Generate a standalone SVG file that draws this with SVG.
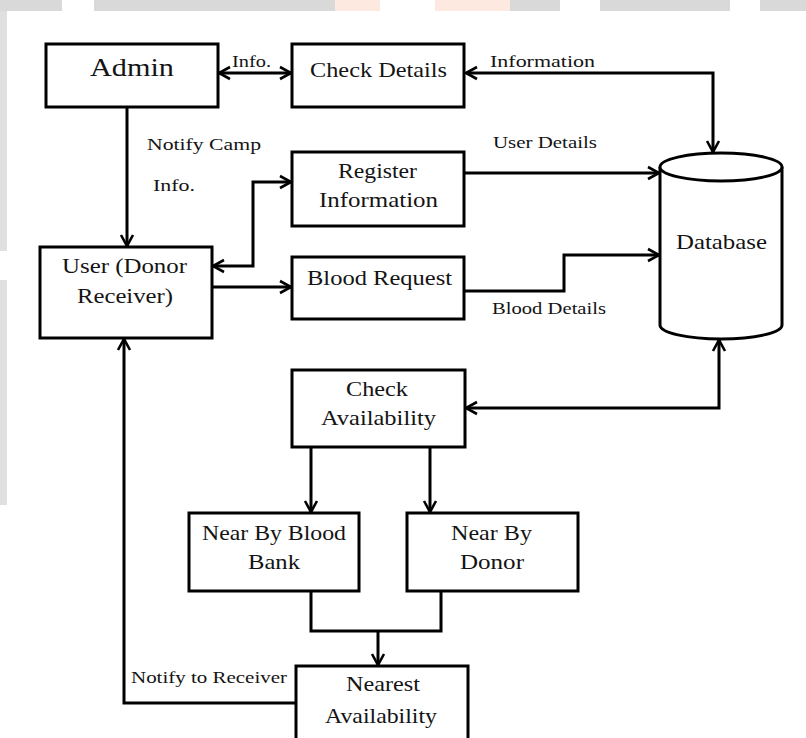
<svg xmlns="http://www.w3.org/2000/svg" width="806" height="738" viewBox="0 0 806 738">
<style>
.box{fill:#fff;stroke:#000;stroke-width:3}
.t{font-family:"Liberation Serif","Times New Roman",serif;font-size:21px;fill:#141414;text-anchor:start}
.lb{font-family:"Liberation Serif","Times New Roman",serif;font-size:17px;fill:#141414}
.c{fill:none;stroke:#000;stroke-width:3}
</style>
<defs>
<marker id="ah" viewBox="-2 -2 16 16" markerWidth="16" markerHeight="16" refX="11" refY="6" markerUnits="userSpaceOnUse" orient="auto-start-reverse">
<path d="M0,0 L11,6 L0,12" fill="none" stroke="#000" stroke-width="2.6"/>
</marker>
</defs>
<rect width="806" height="738" fill="#fff"/>
<g id="watermark">
<rect x="0" y="0" width="806" height="11" fill="#d9d9d9"/>
<rect x="62" y="0" width="32" height="11" fill="#fff"/>
<rect x="335" y="0" width="175" height="11" fill="#fde9df"/>
<rect x="380" y="0" width="55" height="11" fill="#fff"/>
<rect x="560" y="0" width="40" height="11" fill="#fff"/>
<rect x="730" y="0" width="30" height="11" fill="#fff"/>
<rect x="0" y="11" width="7" height="240" fill="#e0e0e0"/>
<rect x="0" y="280" width="7" height="225" fill="#e0e0e0"/>
</g>
<g id="connectors">
<path class="c" d="M219,73 L291,73" marker-start="url(#ah)" marker-end="url(#ah)"/>
<path class="c" d="M466,73 L713,73 L713,152" marker-start="url(#ah)" marker-end="url(#ah)"/>
<path class="c" d="M127,107 L127,246" marker-end="url(#ah)"/>
<path class="c" d="M213,266 L253,266 L253,182 L291,182" marker-start="url(#ah)" marker-end="url(#ah)"/>
<path class="c" d="M464,173 L659,173" marker-end="url(#ah)"/>
<path class="c" d="M212,287 L291,287" marker-end="url(#ah)"/>
<path class="c" d="M464,291 L564,291 L564,255 L659,255" marker-end="url(#ah)"/>
<path class="c" d="M466,408 L719,408 L719,340" marker-start="url(#ah)" marker-end="url(#ah)"/>
<path class="c" d="M311,447 L311,512" marker-end="url(#ah)"/>
<path class="c" d="M430,447 L430,512" marker-end="url(#ah)"/>
<path class="c" d="M311,591 L311,631 L441,631 L441,591"/>
<path class="c" d="M378,631 L378,665" marker-end="url(#ah)"/>
<path class="c" d="M296,703 L124,703 L124,339" marker-end="url(#ah)"/>
</g>
<g id="labels">
<text class="lb" x="232" y="67" textLength="39" lengthAdjust="spacingAndGlyphs">Info.</text>
<text class="lb" x="490" y="67" textLength="105" lengthAdjust="spacingAndGlyphs">Information</text>
<text class="lb" x="147" y="150" textLength="114" lengthAdjust="spacingAndGlyphs">Notify Camp</text>
<text class="lb" x="153" y="191" textLength="42" lengthAdjust="spacingAndGlyphs">Info.</text>
<text class="lb" x="493" y="148" textLength="104" lengthAdjust="spacingAndGlyphs">User Details</text>
<text class="lb" x="492" y="314" textLength="114" lengthAdjust="spacingAndGlyphs">Blood Details</text>
<text class="lb" x="131" y="683" textLength="156" lengthAdjust="spacingAndGlyphs">Notify to Receiver</text>
</g>
<g id="admin">
<rect class="box" x="46" y="44" width="172" height="63"/>
<text class="t" x="90" y="76" style="font-size:25px" textLength="84" lengthAdjust="spacingAndGlyphs">Admin</text>
</g>
<g id="check-details">
<rect class="box" x="292" y="44" width="172" height="63"/>
<text class="t" x="310" y="77" textLength="137" lengthAdjust="spacingAndGlyphs">Check Details</text>
</g>
<g id="user">
<rect class="box" x="40" y="247" width="172" height="91"/>
<text class="t" x="62" y="273" textLength="125" lengthAdjust="spacingAndGlyphs">User (Donor</text>
<text class="t" x="77" y="303" textLength="96" lengthAdjust="spacingAndGlyphs">Receiver)</text>
</g>
<g id="register">
<rect class="box" x="292" y="152" width="172" height="74"/>
<text class="t" x="338" y="178" textLength="79" lengthAdjust="spacingAndGlyphs">Register</text>
<text class="t" x="319" y="207" textLength="119" lengthAdjust="spacingAndGlyphs">Information</text>
</g>
<g id="blood-request">
<rect class="box" x="292" y="257" width="172" height="62"/>
<text class="t" x="307" y="285" textLength="145" lengthAdjust="spacingAndGlyphs">Blood Request</text>
</g>
<g id="database">
<path class="box" d="M660,167 L660,325 A61,14 0 0 0 782,325 L782,167"/>
<ellipse cx="721" cy="167" rx="61" ry="14" fill="#fff" stroke="#000" stroke-width="3"/>
<text class="t" x="676" y="249" textLength="91" lengthAdjust="spacingAndGlyphs">Database</text>
</g>
<g id="check-availability">
<rect class="box" x="292" y="370" width="173" height="77"/>
<text class="t" x="346" y="396" textLength="62" lengthAdjust="spacingAndGlyphs">Check</text>
<text class="t" x="321" y="425" textLength="115" lengthAdjust="spacingAndGlyphs">Availability</text>
</g>
<g id="near-blood-bank">
<rect class="box" x="189" y="513" width="170" height="78"/>
<text class="t" x="202" y="540" textLength="144" lengthAdjust="spacingAndGlyphs">Near By Blood</text>
<text class="t" x="248" y="569" textLength="52" lengthAdjust="spacingAndGlyphs">Bank</text>
</g>
<g id="near-donor">
<rect class="box" x="407" y="513" width="171" height="78"/>
<text class="t" x="451" y="540" textLength="81" lengthAdjust="spacingAndGlyphs">Near By</text>
<text class="t" x="460" y="569" textLength="64" lengthAdjust="spacingAndGlyphs">Donor</text>
</g>
<g id="nearest-availability">
<rect class="box" x="296" y="666" width="172" height="80"/>
<text class="t" x="346" y="691" textLength="74" lengthAdjust="spacingAndGlyphs">Nearest</text>
<text class="t" x="325" y="723" textLength="112" lengthAdjust="spacingAndGlyphs">Availability</text>
</g>
</svg>
